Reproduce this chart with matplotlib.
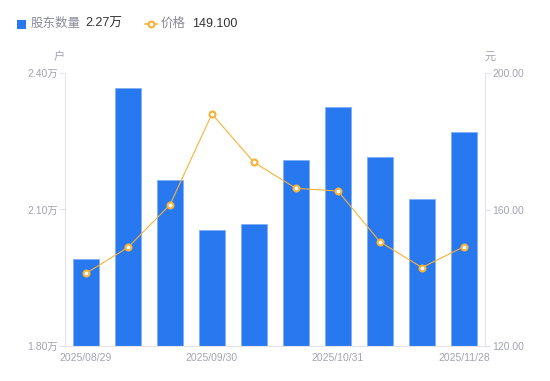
import matplotlib
matplotlib.use("Agg")
import matplotlib.pyplot as plt
from matplotlib.lines import Line2D
from matplotlib.patches import Rectangle

plt.rcParams['font.family'] = ['Liberation Sans', 'Noto Sans CJK SC', 'DejaVu Sans']

dates = ["2025/08/29", "2025/09/10", "2025/09/19", "2025/09/30", "2025/10/10",
         "2025/10/20", "2025/10/31", "2025/11/10", "2025/11/20", "2025/11/28"]
holders = [1.991, 2.367, 2.165, 2.055, 2.068, 2.209, 2.325, 2.215, 2.123, 2.270]  # 万户
price = [141.3, 148.9, 161.4, 188.0, 173.8, 166.2, 165.4, 150.5, 143.0, 149.1]
left_ticks = [1.80, 2.10, 2.40]
right_ticks = [120, 160, 200]
shown_idx = [0, 3, 6, 9]

BLUE = "#2878f0"
ORANGE = "#f7b239"
GRAY = "#a3a3b3"
AXC = "#e3e3e8"

W, H = 550, 381
fig = plt.figure(figsize=(W/100, H/100), dpi=100)
ax = fig.add_axes([65/W, 1-346/H, 420/W, 273/H])
x = list(range(len(dates)))
ax.bar(x, holders, width=0.6, color=BLUE, edgecolor="#7fb0f7", linewidth=0.6, zorder=2)
ax.set_xlim(-0.5, len(dates)-0.5)
ax.set_ylim(1.80, 2.40)
ax.set_yticks(left_ticks)
ax.set_yticklabels([f"{v:.2f}万" for v in left_ticks])
ax.set_xticks([x[i] for i in shown_idx])
ax.set_xticklabels([dates[i] for i in shown_idx])
for s in ["top", "right"]:
    ax.spines[s].set_visible(False)
ax.spines["left"].set_color(AXC)
ax.spines["bottom"].set_color(AXC)
ax.tick_params(axis="y", colors=AXC, labelcolor=GRAY, labelsize=7.5, length=4, width=0.8, pad=1)
ax.tick_params(axis="x", length=0, labelcolor=GRAY, labelsize=7.5, pad=5)

ax2 = ax.twinx()
ax2.plot(x, price, color=ORANGE, linewidth=0.8, marker="o", markersize=4.3,
         markerfacecolor="white", markeredgecolor=ORANGE, markeredgewidth=1.5, zorder=3)
ax2.set_ylim(120, 200)
ax2.set_yticks(right_ticks)
ax2.set_yticklabels([f"{v:.2f}" for v in right_ticks])
for s in ["top", "left", "bottom"]:
    ax2.spines[s].set_visible(False)
ax2.spines["right"].set_color(AXC)
ax2.tick_params(axis="y", colors=AXC, labelcolor=GRAY, labelsize=7.5, length=4, width=0.8, pad=1)

fig.text(59/W, 1-57/H, "户", color=GRAY, fontsize=8, ha="center", va="center")
fig.text(490/W, 1-57/H, "元", color=GRAY, fontsize=8, ha="center", va="center")

# legend
fig.patches.append(Rectangle((17/W, 1-29/H), 9/W, 9/H, transform=fig.transFigure,
                             facecolor=BLUE, edgecolor="none"))
fig.text(31/W, 1-24/H, "股东数量", color="#8a8a99", fontsize=9, va="center")
fig.text(85/W, 1-24/H, "2.27万", color="#333333", fontsize=9, va="center")
fig.lines.append(Line2D([145/W, 157/W], [1-24/H, 1-24/H], transform=fig.transFigure,
                        color=ORANGE, linewidth=1.2))
fig.lines.append(Line2D([151/W], [1-24/H], transform=fig.transFigure, color=ORANGE,
                        marker="o", markersize=4.2, markerfacecolor="white",
                        markeredgecolor=ORANGE, markeredgewidth=1.5))
fig.text(161/W, 1-24/H, "价格", color="#8a8a99", fontsize=9, va="center")
fig.text(192/W, 1-24/H, "149.100", color="#333333", fontsize=9, va="center")

fig.savefig("out.png", dpi=100)
